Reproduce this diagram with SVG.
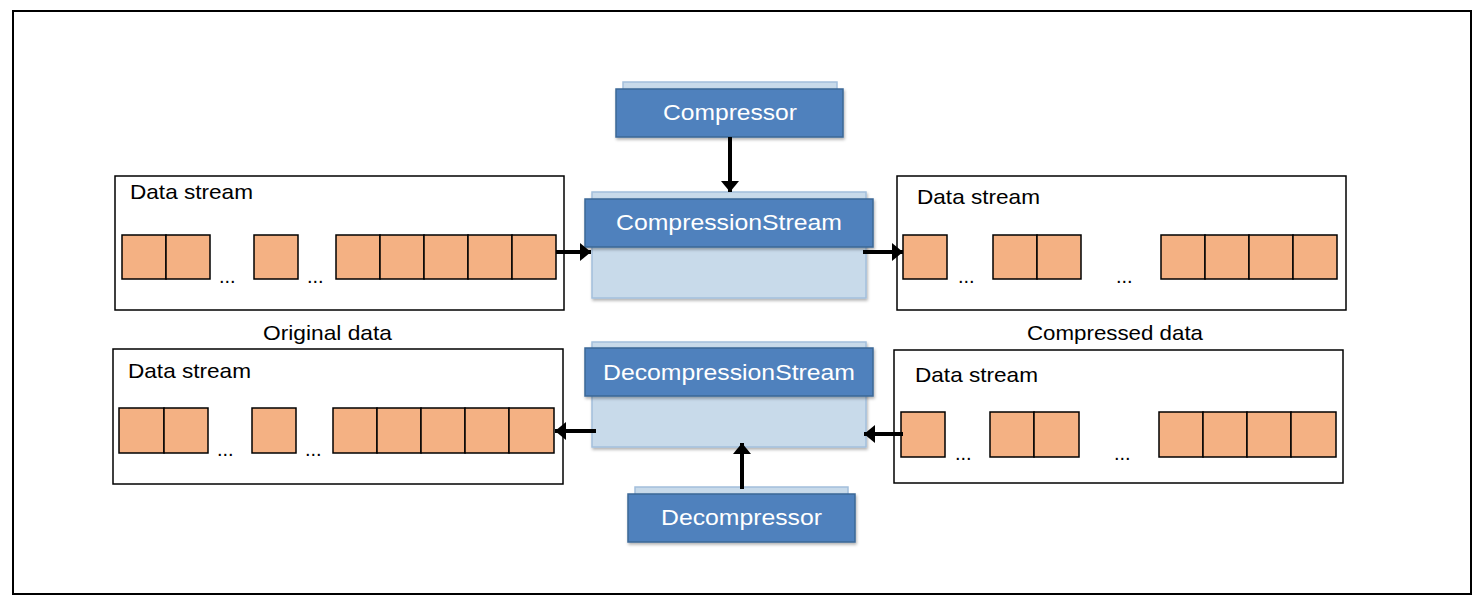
<svg xmlns="http://www.w3.org/2000/svg" width="1483" height="608" viewBox="0 0 1483 608">
<defs>
<style>
.txt{font-family:"Liberation Sans",Arial,sans-serif;font-size:21px;fill:#000}
.wt{font-family:"Liberation Sans",Arial,sans-serif;font-size:22px;fill:#fff;text-anchor:middle}
.dots{font-family:"Liberation Sans",Arial,sans-serif;font-size:20px;fill:#000}
.box{fill:#fff;stroke:#000;stroke-width:1.5}
.sq{fill:#F4B183;stroke:#000;stroke-width:1.5}
.back{fill:#C8DAEA;stroke:#A3BFDC;stroke-width:1.5}
.head{fill:#4F81BD;stroke:#3B6896;stroke-width:1.5}
.conn{stroke:#000;stroke-width:4;fill:none;marker-end:url(#ah)}
</style>
<marker id="ah" markerUnits="userSpaceOnUse" markerWidth="14" markerHeight="20" refX="11" refY="9" orient="auto">
<path d="M0,0 L11,9 L0,18 Z" fill="#000"/>
</marker>
<filter id="sh" x="-10%" y="-20%" width="120%" height="150%">
<feDropShadow dx="1" dy="2" stdDeviation="1.5" flood-color="#000" flood-opacity="0.3"/>
</filter>
</defs>
<rect x="0" y="0" width="1483" height="608" fill="#fff"/>
<rect id="frame" x="13" y="11" width="1458" height="583" fill="none" stroke="#000" stroke-width="2"/>

<g id="ds-top-left">
<rect class="box" x="115" y="176" width="449" height="134"/>
<text class="txt" x="130" y="199" textLength="123" lengthAdjust="spacingAndGlyphs">Data stream</text>
<rect class="sq" x="122" y="235" width="44" height="44"/>
<rect class="sq" x="166" y="235" width="44" height="44"/>
<rect class="sq" x="254" y="235" width="44" height="44"/>
<rect class="sq" x="336" y="235" width="44" height="44"/>
<rect class="sq" x="380" y="235" width="44" height="44"/>
<rect class="sq" x="424" y="235" width="44" height="44"/>
<rect class="sq" x="468" y="235" width="44" height="44"/>
<rect class="sq" x="512" y="235" width="44" height="44"/>
<text class="dots" x="219" y="283">...</text>
<text class="dots" x="307" y="283">...</text>
</g>

<g id="ds-top-right">
<rect class="box" x="897" y="176" width="449" height="134"/>
<text class="txt" x="917" y="204" textLength="123" lengthAdjust="spacingAndGlyphs">Data stream</text>
<rect class="sq" x="903" y="235" width="44" height="44"/>
<rect class="sq" x="993" y="235" width="44" height="44"/>
<rect class="sq" x="1037" y="235" width="44" height="44"/>
<rect class="sq" x="1161" y="235" width="44" height="44"/>
<rect class="sq" x="1205" y="235" width="44" height="44"/>
<rect class="sq" x="1249" y="235" width="44" height="44"/>
<rect class="sq" x="1293" y="235" width="44" height="44"/>
<text class="dots" x="958" y="283">...</text>
<text class="dots" x="1116" y="283">...</text>
</g>

<g id="ds-bottom-left">
<rect class="box" x="113" y="349" width="450" height="135"/>
<text class="txt" x="128" y="378" textLength="123" lengthAdjust="spacingAndGlyphs">Data stream</text>
<rect class="sq" x="119" y="408" width="45" height="45"/>
<rect class="sq" x="164" y="408" width="44" height="45"/>
<rect class="sq" x="252" y="408" width="44" height="45"/>
<rect class="sq" x="333" y="408" width="44" height="45"/>
<rect class="sq" x="377" y="408" width="44" height="45"/>
<rect class="sq" x="421" y="408" width="44" height="45"/>
<rect class="sq" x="465" y="408" width="44" height="45"/>
<rect class="sq" x="509" y="408" width="45" height="45"/>
<text class="dots" x="217" y="456">...</text>
<text class="dots" x="305" y="456">...</text>
</g>

<g id="ds-bottom-right">
<rect class="box" x="894" y="350" width="449" height="133"/>
<text class="txt" x="915" y="382" textLength="123" lengthAdjust="spacingAndGlyphs">Data stream</text>
<rect class="sq" x="901" y="412" width="44" height="45"/>
<rect class="sq" x="990" y="412" width="44" height="45"/>
<rect class="sq" x="1034" y="412" width="45" height="45"/>
<rect class="sq" x="1159" y="412" width="44" height="45"/>
<rect class="sq" x="1203" y="412" width="44" height="45"/>
<rect class="sq" x="1247" y="412" width="44" height="45"/>
<rect class="sq" x="1291" y="412" width="45" height="45"/>
<text class="dots" x="955" y="460">...</text>
<text class="dots" x="1114" y="460">...</text>
</g>

<g id="lbl-original">
<text class="txt" x="263" y="340" textLength="129" lengthAdjust="spacingAndGlyphs">Original data</text>
</g>
<g id="lbl-compressed">
<text class="txt" x="1027" y="340" textLength="176" lengthAdjust="spacingAndGlyphs">Compressed data</text>
</g>

<g id="compressor">
<rect class="back" x="623" y="82" width="214" height="40"/>
<rect class="head" x="616" y="89" width="227" height="48" filter="url(#sh)"/>
<text class="wt" x="730" y="120" textLength="134" lengthAdjust="spacingAndGlyphs">Compressor</text>
</g>

<g id="compression-stream">
<rect class="back" x="592" y="192" width="274" height="106" filter="url(#sh)"/>
<rect class="head" x="585" y="199" width="288" height="48" filter="url(#sh)"/>
<text class="wt" x="729" y="230" textLength="226" lengthAdjust="spacingAndGlyphs">CompressionStream</text>
</g>

<g id="decompression-stream">
<rect class="back" x="592" y="342" width="274" height="105" filter="url(#sh)"/>
<rect class="head" x="585" y="348" width="288" height="48" filter="url(#sh)"/>
<text class="wt" x="729" y="380" textLength="252" lengthAdjust="spacingAndGlyphs">DecompressionStream</text>
</g>

<g id="decompressor">
<rect class="back" x="635" y="487" width="213" height="40"/>
<rect class="head" x="628" y="494" width="227" height="48" filter="url(#sh)"/>
<text class="wt" x="741.5" y="525" textLength="161" lengthAdjust="spacingAndGlyphs">Decompressor</text>
</g>

<g id="connectors">
<line class="conn" x1="730" y1="137" x2="730" y2="192"/>
<line class="conn" x1="556" y1="252" x2="591" y2="252"/>
<line class="conn" x1="863" y1="252" x2="903" y2="252"/>
<line class="conn" x1="742" y1="489" x2="742" y2="443"/>
<line class="conn" x1="596" y1="431" x2="555" y2="431"/>
<line class="conn" x1="903" y1="434" x2="864" y2="434"/>
</g>
</svg>
